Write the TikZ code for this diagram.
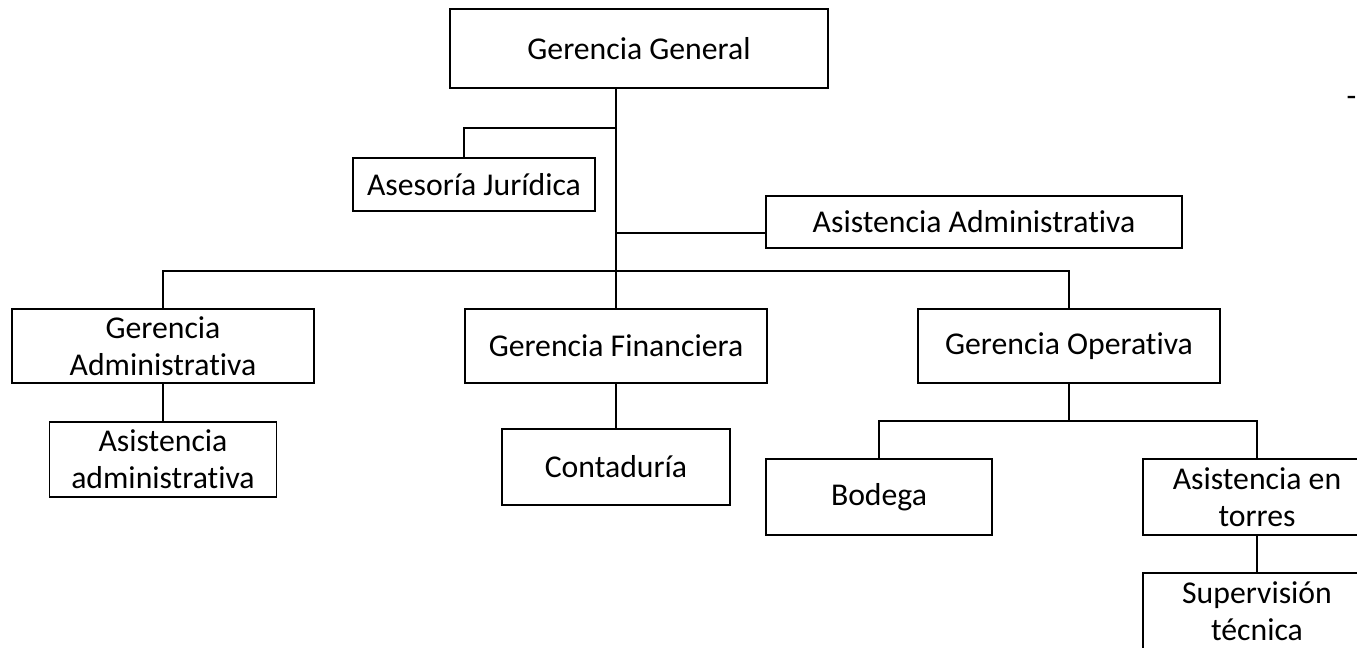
\documentclass[tikz,border=0pt]{standalone}
\usepackage{fontspec}
\setmainfont{Carlito}[Ligatures=NoCommon]
\begin{document}
\begin{tikzpicture}[x=0.75pt,y=-0.75pt,
  unit/.style={draw=black, line width=1.4pt, align=center, inner sep=0pt,
    font=\fontsize{23.8}{28}\selectfont},
  size/.style 2 args={minimum width=#1*0.75pt, minimum height=#2*0.75pt},
  link/.style={draw=black, line width=1.4pt},
  thinlink/.style={draw=black, line width=0.8pt}]
\useasboundingbox (0,0) rectangle (1357,647);
\clip (0,0) rectangle (1357,647);

% units of the organisation
\node[unit,size={378}{79}] (gg) at (639,48.5) {Gerencia General};
\node[unit,size={242}{53}] (aj) at (474,184.5) {Asesoría Jurídica};
\node[unit,size={416}{52}] (aa) at (974,222) {Asistencia Administrativa};
\node[unit,size={302}{74}] (gadm) at (163,346) {Gerencia\\Administrativa};
\node[unit,size={302}{74}] (gfin) at (616,346) {Gerencia Financiera};
\node[unit,size={302}{74}] (gop) at (1069,346) {Gerencia Operativa};
\node[unit,size={227}{75}] (asadm) at (163,459.5) {Asistencia\\administrativa};
\node[unit,size={228}{76}] (cont) at (616,467) {Contaduría};
\node[unit,size={226}{76}] (bod) at (879,497) {Bodega};
\node[unit,size={228}{76}] (ator) at (1257,497) {Asistencia en\\torres};
\node[unit,size={228}{76}] (sup) at (1257,611) {Supervisión\\técnica};
\node[inner sep=0pt, anchor=base, font=\fontsize{23.8}{28}\selectfont] (mark) at (1351.5,106) {-};

% junction points on the main trunk
\coordinate (ajjoin) at (616,128);
\coordinate (aajoin) at (616,233);
\coordinate (bus) at (616,271);
\coordinate (opbus) at (1069,421);

% connectors
\draw[link] (gfin.north |- gg.south) -- (gfin.north);
\draw[thinlink] (ajjoin) -| ([xshift=-7.5pt]aj.north);
\draw[link] (aajoin) -- (aajoin -| aa.west);
\draw[link] (gadm.north) |- (bus) -| (gop.north);
\draw[link] (gadm.south) -- (asadm.north);
\draw[link] (gfin.south) -- (cont.north);
\draw[link] (gop.south) -- (opbus);
\draw[link] (bod.north) |- (opbus) -| (ator.north);
\draw[link] (ator.south) -- (sup.north);
\end{tikzpicture}
\end{document}
